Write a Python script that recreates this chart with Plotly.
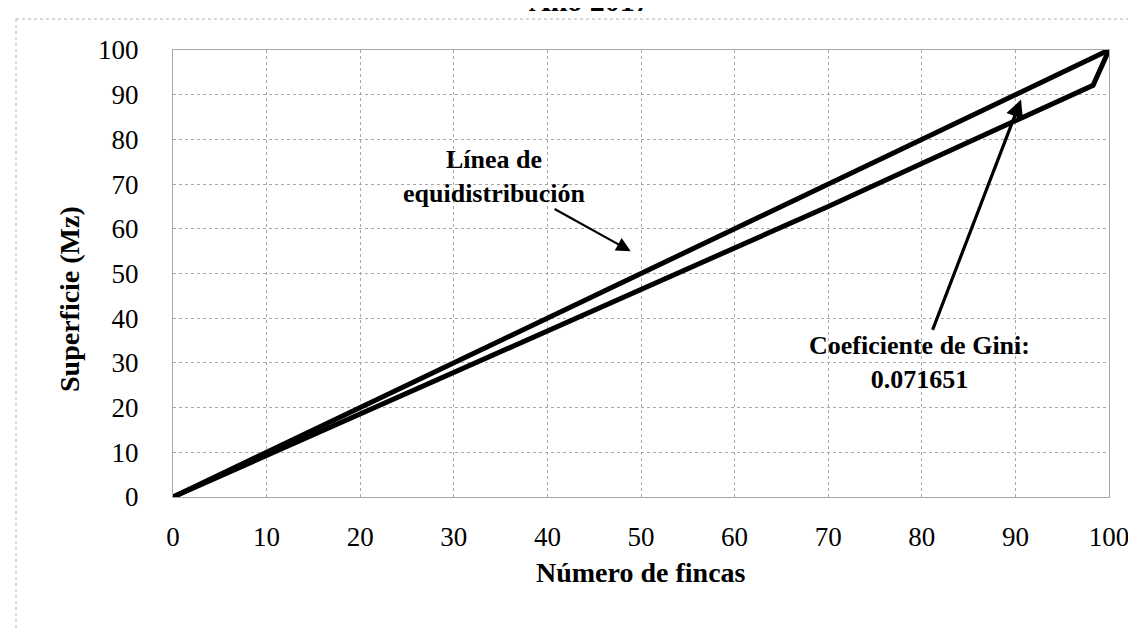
import plotly.graph_objects as go

# Data
equi_x = [0, 100]
equi_y = [0, 100]
lorenz_x = [0, 10, 20, 30, 40, 50, 60, 70, 80, 90, 98.3, 100]
lorenz_y = [0, 9.3, 18.6, 27.6, 36.9, 46.2, 55.6, 65.0, 74.6, 84.3, 92.1, 100]
tick_vals = [0, 10, 20, 30, 40, 50, 60, 70, 80, 90, 100]

title_text = "Año 2017"
x_title = "Número de fincas"
y_title = "Superficie (Mz)"
equi_label = "Línea de<br>equidistribución"
gini_label = "Coeficiente de Gini:<br>0.071651"

FONT = "Liberation Serif, Times New Roman, serif"

fig = go.Figure()
fig.add_trace(go.Scatter(x=equi_x, y=equi_y, mode="lines",
                         line=dict(color="black", width=5), showlegend=False))
fig.add_trace(go.Scatter(x=lorenz_x, y=lorenz_y, mode="lines",
                         line=dict(color="black", width=5), showlegend=False))

grid = dict(showgrid=True, gridcolor="#a8a8a8", griddash="dot", gridwidth=1,
            showline=True, linecolor="#a8a8a8", mirror=True, zeroline=False,
            tickvals=tick_vals, tickfont=dict(family=FONT, size=27, color="black"),
            range=[0, 100], fixedrange=True)

fig.update_xaxes(**grid, ticklabelstandoff=16)
fig.update_yaxes(**grid, ticklabelstandoff=28)

anns = [
    dict(text="<b>" + title_text + "</b>", xref="paper", yref="paper", x=0.445, y=1.11,
         xanchor="center", yanchor="middle", showarrow=False,
         font=dict(family=FONT, size=30, color="black")),
    dict(text="<b>" + x_title + "</b>", xref="paper", yref="paper", x=0.5, y=-0.168,
         xanchor="center", yanchor="middle", showarrow=False,
         font=dict(family=FONT, size=28, color="black")),
    dict(text="<b>" + y_title + "</b>", xref="paper", yref="paper", x=-0.110, y=0.443,
         xanchor="center", yanchor="middle", showarrow=False, textangle=-90,
         font=dict(family=FONT, size=28, color="black")),
    dict(text="<b>" + equi_label + "</b>", x=48.9, y=55.0, ax=34.4, ay=71.8,
         xref="x", yref="y", axref="x", ayref="y", showarrow=True,
         arrowhead=2, arrowsize=1.3, arrowwidth=2.2, arrowcolor="black",
         font=dict(family=FONT, size=26, color="black"), align="center"),
    dict(text="<b>" + gini_label + "</b>", x=90.6, y=88.9, ax=79.8, ay=30.0,
         xref="x", yref="y", axref="x", ayref="y", showarrow=True,
         arrowhead=2, arrowsize=1.1, arrowwidth=3.2, arrowcolor="black",
         font=dict(family=FONT, size=26, color="black"), align="center"),
]

shapes = [
    dict(type="line", xref="paper", yref="paper", x0=(8 - 165) / 936, x1=1.05,
         y0=(489 - 11) / 447, y1=(489 - 11) / 447,
         line=dict(color="#b0b0b0", width=1, dash="dot")),
    dict(type="line", xref="paper", yref="paper", x0=(8 - 165) / 936, x1=(8 - 165) / 936,
         y0=(489 - 11) / 447, y1=-0.35,
         line=dict(color="#b0b0b0", width=1, dash="dot")),
]

fig.update_layout(
    width=1136, height=630,
    margin=dict(l=165, r=35, t=42, b=141),
    plot_bgcolor="white", paper_bgcolor="white",
    annotations=anns, shapes=shapes,
    font=dict(family=FONT, color="black"),
)

fig.write_html("out.html")
